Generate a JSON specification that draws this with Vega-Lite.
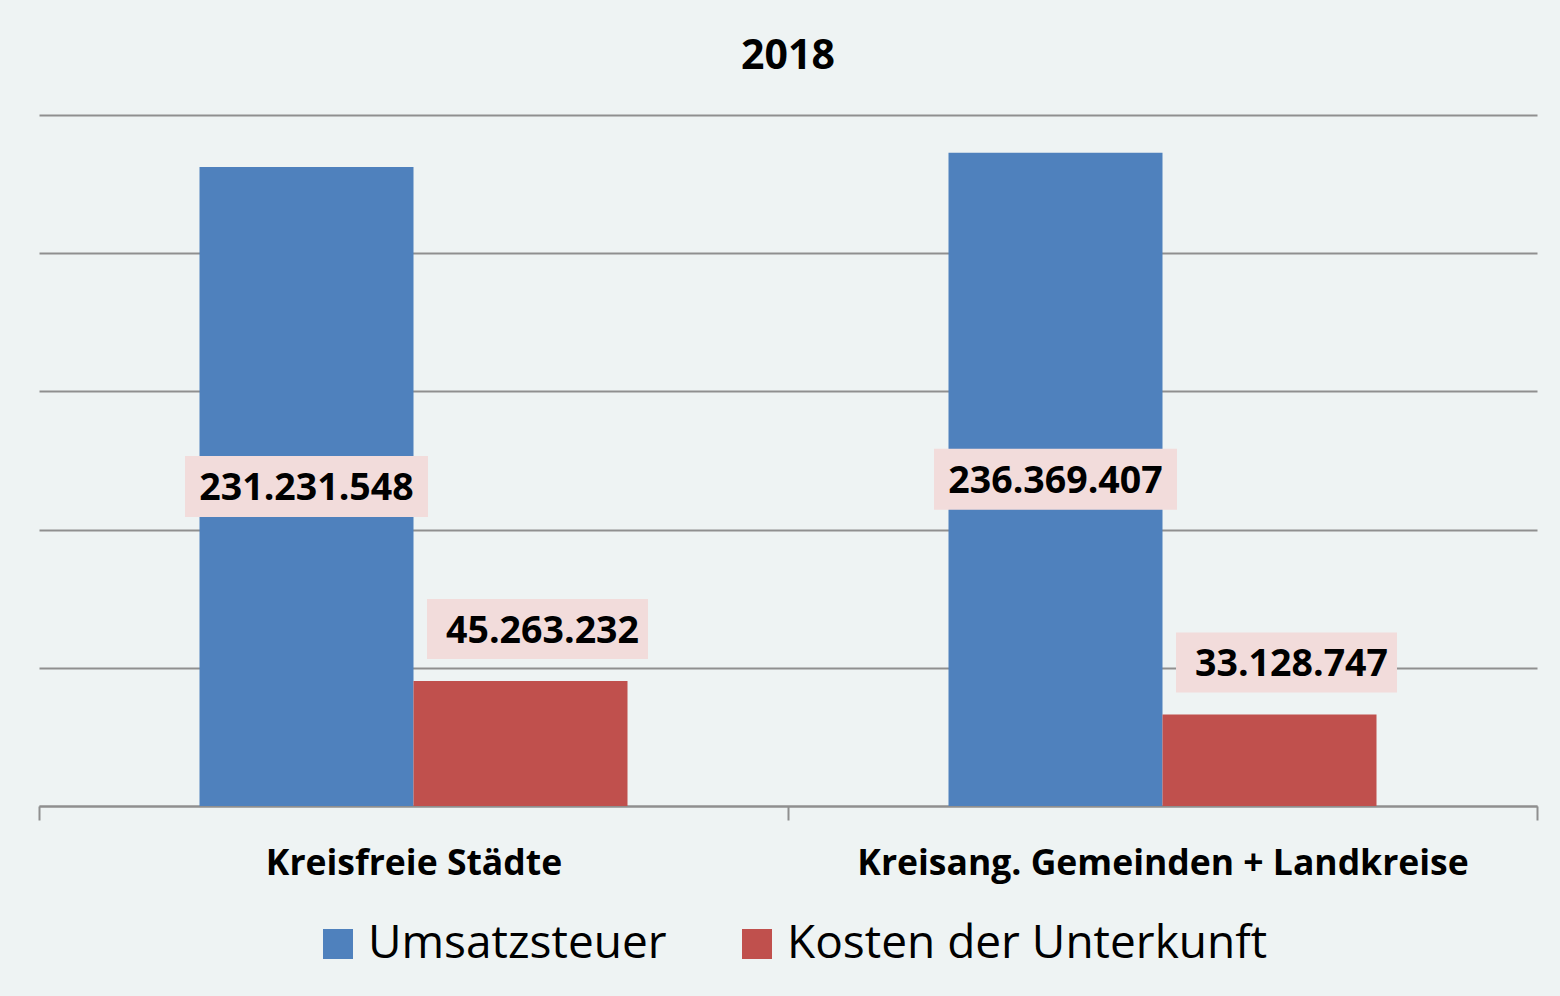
{
  "$schema": "https://vega.github.io/schema/vega-lite/v6.json",
  "width": 1498,
  "height": 691,
  "autosize": {"type": "none"},
  "padding": {"left": 39, "top": 115, "right": 23, "bottom": 190},
  "background": "#EEF3F3",
  "config": {
    "view": {"stroke": null},
    "font": "Open Sans",
    "locale": {"number": {"decimal": ",", "thousands": ".", "grouping": [3], "currency": ["", " €"]}}
  },
  "title": {
    "text": "2018",
    "fontSize": 41,
    "font": "Open Sans",
    "fontWeight": "bold",
    "color": "#000000",
    "anchor": "middle",
    "frame": "group",
    "baseline": "alphabetic",
    "offset": 5
  },
  "data": {
    "values": [
      {"region": "Kreisfreie Städte", "series": "Umsatzsteuer", "value": 231231548},
      {"region": "Kreisfreie Städte", "series": "Kosten der Unterkunft", "value": 45263232},
      {"region": "Kreisang. Gemeinden + Landkreise", "series": "Umsatzsteuer", "value": 236369407},
      {"region": "Kreisang. Gemeinden + Landkreise", "series": "Kosten der Unterkunft", "value": 33128747}
    ]
  },
  "encoding": {
    "x": {
      "field": "region",
      "type": "nominal",
      "sort": ["Kreisfreie Städte", "Kreisang. Gemeinden + Landkreise"],
      "scale": {"paddingInner": 0, "paddingOuter": 0},
      "axis": {
        "title": null,
        "domainColor": "#8F8F8F",
        "domainWidth": 2,
        "tickColor": "#8F8F8F",
        "tickWidth": 2,
        "tickSize": 14,
        "tickBand": "extent",
        "labelFont": "Open Sans",
        "labelFontWeight": "bold",
        "labelFontSize": 35.5,
        "labelColor": "#000000",
        "labelBaseline": "alphabetic",
        "labelPadding": 54,
        "labelAngle": 0,
        "labelLimit": 1000
      }
    },
    "xOffset": {
      "field": "series",
      "type": "nominal",
      "sort": ["Umsatzsteuer", "Kosten der Unterkunft"],
      "scale": {"paddingInner": 0, "paddingOuter": 0.75}
    }
  },
  "layer": [
    {
      "mark": {"type": "bar"},
      "encoding": {
        "y": {
          "field": "value",
          "type": "quantitative",
          "scale": {"domain": [0, 250000000], "nice": false},
          "axis": {
            "title": null,
            "labels": false,
            "ticks": false,
            "domain": false,
            "grid": true,
            "gridColor": "#8F8F8F",
            "gridWidth": 2,
            "values": [0, 50000000, 100000000, 150000000, 200000000, 250000000]
          }
        },
        "color": {
          "field": "series",
          "type": "nominal",
          "scale": {"domain": ["Umsatzsteuer", "Kosten der Unterkunft"], "range": ["#4F81BD", "#C0504D"]},
          "legend": {
            "orient": "none",
            "legendX": 276,
            "legendY": 806,
            "direction": "horizontal",
            "title": null,
            "symbolType": "square",
            "symbolSize": 900,
            "symbolStrokeWidth": 0,
            "symbolOpacity": 1,
            "labelFont": "Open Sans",
            "labelFontSize": 46,
            "labelColor": "#000000",
            "labelOffset": 7,
            "labelLimit": 1000,
            "columnPadding": 67,
            "padding": 0
          }
        }
      }
    },
    {
      "transform": [{"filter": "datum.series === 'Umsatzsteuer'"}],
      "mark": {
        "type": "point",
        "shape": "M-1,-0.251L1,-0.251L1,0.251L-1,0.251Z",
        "size": 59049,
        "filled": true,
        "fill": "#F2DCDB",
        "opacity": 1,
        "strokeWidth": 0
      },
      "encoding": {
        "y": {"field": "value", "type": "quantitative", "scale": {"domain": [0, 500000000], "nice": false}, "axis": null}
      }
    },
    {
      "transform": [{"filter": "datum.series === 'Umsatzsteuer'"}],
      "mark": {
        "type": "text",
        "font": "Open Sans",
        "fontWeight": "bold",
        "fontSize": 37.5,
        "color": "#000000",
        "baseline": "middle",
        "dy": 3
      },
      "encoding": {
        "y": {"field": "value", "type": "quantitative", "scale": {"domain": [0, 500000000], "nice": false}, "axis": null},
        "text": {"field": "value", "type": "quantitative", "format": ",d"}
      }
    },
    {
      "transform": [{"filter": "datum.series === 'Kosten der Unterkunft'"}],
      "mark": {
        "type": "point",
        "shape": "M-0.846,-0.2715L1.154,-0.2715L1.154,0.2715L-0.846,0.2715Z",
        "size": 48841,
        "filled": true,
        "fill": "#F2DCDB",
        "opacity": 1,
        "strokeWidth": 0,
        "yOffset": -52
      },
      "encoding": {
        "y": {"field": "value", "type": "quantitative", "scale": {"domain": [0, 250000000], "nice": false}, "axis": null}
      }
    },
    {
      "transform": [{"filter": "datum.series === 'Kosten der Unterkunft'"}],
      "mark": {
        "type": "text",
        "font": "Open Sans",
        "fontWeight": "bold",
        "fontSize": 37.5,
        "color": "#000000",
        "baseline": "middle",
        "dx": 22,
        "dy": -49
      },
      "encoding": {
        "y": {"field": "value", "type": "quantitative", "scale": {"domain": [0, 250000000], "nice": false}, "axis": null},
        "text": {"field": "value", "type": "quantitative", "format": ",d"}
      }
    }
  ],
  "resolve": {"scale": {"y": "independent"}}
}
